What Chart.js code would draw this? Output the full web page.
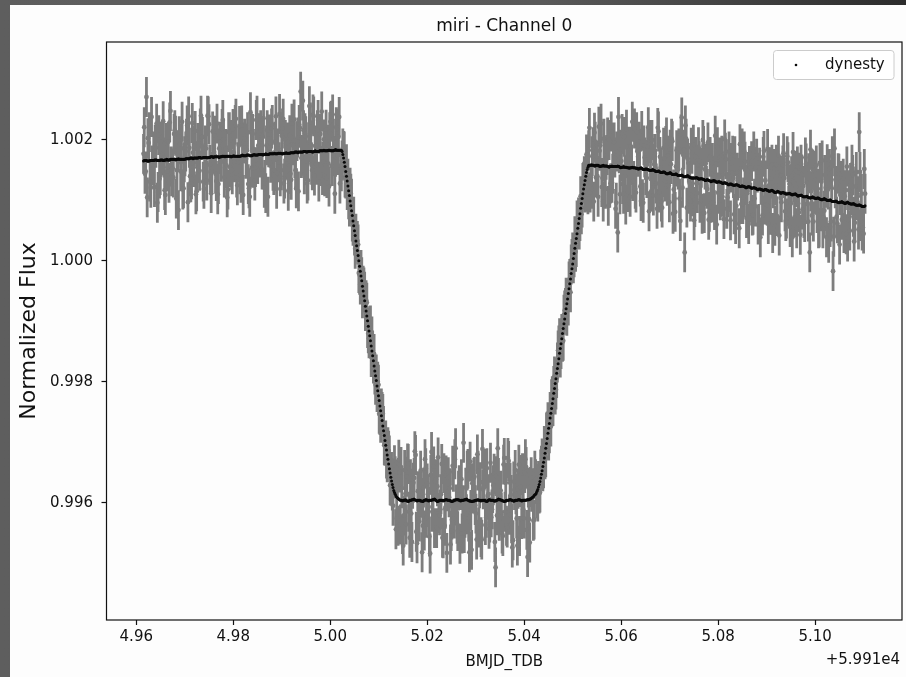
<!DOCTYPE html>
<html>
<head>
<meta charset="utf-8">
<title>miri - Channel 0</title>
<script src="https://cdn.jsdelivr.net/npm/chart.js@4.4.1/dist/chart.umd.min.js"></script>
<style>
  html, body { margin: 0; padding: 0; }
  body {
    width: 906px; height: 677px; overflow: hidden; position: relative;
    background: linear-gradient(to right, #5e5e5e 0%, #595959 60%, #2c2c2c 100%);
  }
  #sheet { position: absolute; left: 10px; top: 5px; right: 0; bottom: 0; background: #fdfdfd; }
  #chart { position: absolute; left: 0; top: 0; }
</style>
</head>
<body>
<div id="sheet"></div>
<canvas id="chart" width="906" height="677"></canvas>
<script>
// Time axis (BMJD_TDB minus the 5.991e4 offset)
const times = [
  4.96150,4.96165,4.96180,4.96195,4.96210,4.96225,4.96240,4.96255,4.96270,4.96285,4.96300,4.96315,4.96330,4.96345,4.96360,4.96375,4.96390,4.96405,4.96420,4.96435,4.96450,4.96465,4.96480,4.96495,4.96510,4.96525,4.96540,4.96555,4.96570,4.96585,4.96600,4.96615,4.96630,4.96645,4.96660,4.96675,4.96690,4.96705,4.96720,4.96735,
  4.96750,4.96765,4.96780,4.96795,4.96810,4.96825,4.96840,4.96855,4.96870,4.96885,4.96900,4.96915,4.96930,4.96945,4.96960,4.96975,4.96990,4.97005,4.97020,4.97035,4.97050,4.97065,4.97080,4.97095,4.97110,4.97125,4.97140,4.97155,4.97170,4.97185,4.97200,4.97215,4.97230,4.97245,4.97260,4.97275,4.97290,4.97305,4.97320,4.97335,
  4.97350,4.97365,4.97380,4.97395,4.97410,4.97425,4.97440,4.97455,4.97470,4.97485,4.97500,4.97515,4.97530,4.97545,4.97560,4.97575,4.97590,4.97605,4.97620,4.97635,4.97650,4.97665,4.97680,4.97695,4.97710,4.97725,4.97740,4.97755,4.97770,4.97785,4.97800,4.97815,4.97830,4.97845,4.97860,4.97875,4.97890,4.97905,4.97920,4.97935,
  4.97950,4.97965,4.97980,4.97995,4.98010,4.98025,4.98040,4.98055,4.98070,4.98085,4.98100,4.98115,4.98130,4.98145,4.98160,4.98175,4.98190,4.98205,4.98220,4.98235,4.98250,4.98265,4.98280,4.98295,4.98310,4.98325,4.98340,4.98355,4.98370,4.98385,4.98400,4.98415,4.98430,4.98445,4.98460,4.98475,4.98490,4.98505,4.98520,4.98535,
  4.98550,4.98565,4.98580,4.98595,4.98610,4.98625,4.98640,4.98655,4.98670,4.98685,4.98700,4.98715,4.98730,4.98745,4.98760,4.98775,4.98790,4.98805,4.98820,4.98835,4.98850,4.98865,4.98880,4.98895,4.98910,4.98925,4.98940,4.98955,4.98970,4.98985,4.99000,4.99015,4.99030,4.99045,4.99060,4.99075,4.99090,4.99105,4.99120,4.99135,
  4.99150,4.99165,4.99180,4.99195,4.99210,4.99225,4.99240,4.99255,4.99270,4.99285,4.99300,4.99315,4.99330,4.99345,4.99360,4.99375,4.99390,4.99405,4.99420,4.99435,4.99450,4.99465,4.99480,4.99495,4.99510,4.99525,4.99540,4.99555,4.99570,4.99585,4.99600,4.99615,4.99630,4.99645,4.99660,4.99675,4.99690,4.99705,4.99720,4.99735,
  4.99750,4.99765,4.99780,4.99795,4.99810,4.99825,4.99840,4.99855,4.99870,4.99885,4.99900,4.99915,4.99930,4.99945,4.99960,4.99975,4.99990,5.00005,5.00020,5.00035,5.00050,5.00065,5.00080,5.00095,5.00110,5.00125,5.00140,5.00155,5.00170,5.00185,5.00200,5.00215,5.00230,5.00245,5.00260,5.00275,5.00290,5.00305,5.00320,5.00335,
  5.00350,5.00365,5.00380,5.00395,5.00410,5.00425,5.00440,5.00455,5.00470,5.00485,5.00500,5.00515,5.00530,5.00545,5.00560,5.00575,5.00590,5.00605,5.00620,5.00635,5.00650,5.00665,5.00680,5.00695,5.00710,5.00725,5.00740,5.00755,5.00770,5.00785,5.00800,5.00815,5.00830,5.00845,5.00860,5.00875,5.00890,5.00905,5.00920,5.00935,
  5.00950,5.00965,5.00980,5.00995,5.01010,5.01025,5.01040,5.01055,5.01070,5.01085,5.01100,5.01115,5.01130,5.01145,5.01160,5.01175,5.01190,5.01205,5.01220,5.01235,5.01250,5.01265,5.01280,5.01295,5.01310,5.01325,5.01340,5.01355,5.01370,5.01385,5.01400,5.01415,5.01430,5.01445,5.01460,5.01475,5.01490,5.01505,5.01520,5.01535,
  5.01550,5.01565,5.01580,5.01595,5.01610,5.01625,5.01640,5.01655,5.01670,5.01685,5.01700,5.01715,5.01730,5.01745,5.01760,5.01775,5.01790,5.01805,5.01820,5.01835,5.01850,5.01865,5.01880,5.01895,5.01910,5.01925,5.01940,5.01955,5.01970,5.01985,5.02000,5.02015,5.02030,5.02045,5.02060,5.02075,5.02090,5.02105,5.02120,5.02135,
  5.02150,5.02165,5.02180,5.02195,5.02210,5.02225,5.02240,5.02255,5.02270,5.02285,5.02300,5.02315,5.02330,5.02345,5.02360,5.02375,5.02390,5.02405,5.02420,5.02435,5.02450,5.02465,5.02480,5.02495,5.02510,5.02525,5.02540,5.02555,5.02570,5.02585,5.02600,5.02615,5.02630,5.02645,5.02660,5.02675,5.02690,5.02705,5.02720,5.02735,
  5.02750,5.02765,5.02780,5.02795,5.02810,5.02825,5.02840,5.02855,5.02870,5.02885,5.02900,5.02915,5.02930,5.02945,5.02960,5.02975,5.02990,5.03005,5.03020,5.03035,5.03050,5.03065,5.03080,5.03095,5.03110,5.03125,5.03140,5.03155,5.03170,5.03185,5.03200,5.03215,5.03230,5.03245,5.03260,5.03275,5.03290,5.03305,5.03320,5.03335,
  5.03350,5.03365,5.03380,5.03395,5.03410,5.03425,5.03440,5.03455,5.03470,5.03485,5.03500,5.03515,5.03530,5.03545,5.03560,5.03575,5.03590,5.03605,5.03620,5.03635,5.03650,5.03665,5.03680,5.03695,5.03710,5.03725,5.03740,5.03755,5.03770,5.03785,5.03800,5.03815,5.03830,5.03845,5.03860,5.03875,5.03890,5.03905,5.03920,5.03935,
  5.03950,5.03965,5.03980,5.03995,5.04010,5.04025,5.04040,5.04055,5.04070,5.04085,5.04100,5.04115,5.04130,5.04145,5.04160,5.04175,5.04190,5.04205,5.04220,5.04235,5.04250,5.04265,5.04280,5.04295,5.04310,5.04325,5.04340,5.04355,5.04370,5.04385,5.04400,5.04415,5.04430,5.04445,5.04460,5.04475,5.04490,5.04505,5.04520,5.04535,
  5.04550,5.04565,5.04580,5.04595,5.04610,5.04625,5.04640,5.04655,5.04670,5.04685,5.04700,5.04715,5.04730,5.04745,5.04760,5.04775,5.04790,5.04805,5.04820,5.04835,5.04850,5.04865,5.04880,5.04895,5.04910,5.04925,5.04940,5.04955,5.04970,5.04985,5.05000,5.05015,5.05030,5.05045,5.05060,5.05075,5.05090,5.05105,5.05120,5.05135,
  5.05150,5.05165,5.05180,5.05195,5.05210,5.05225,5.05240,5.05255,5.05270,5.05285,5.05300,5.05315,5.05330,5.05345,5.05360,5.05375,5.05390,5.05405,5.05420,5.05435,5.05450,5.05465,5.05480,5.05495,5.05510,5.05525,5.05540,5.05555,5.05570,5.05585,5.05600,5.05615,5.05630,5.05645,5.05660,5.05675,5.05690,5.05705,5.05720,5.05735,
  5.05750,5.05765,5.05780,5.05795,5.05810,5.05825,5.05840,5.05855,5.05870,5.05885,5.05900,5.05915,5.05930,5.05945,5.05960,5.05975,5.05990,5.06005,5.06020,5.06035,5.06050,5.06065,5.06080,5.06095,5.06110,5.06125,5.06140,5.06155,5.06170,5.06185,5.06200,5.06215,5.06230,5.06245,5.06260,5.06275,5.06290,5.06305,5.06320,5.06335,
  5.06350,5.06365,5.06380,5.06395,5.06410,5.06425,5.06440,5.06455,5.06470,5.06485,5.06500,5.06515,5.06530,5.06545,5.06560,5.06575,5.06590,5.06605,5.06620,5.06635,5.06650,5.06665,5.06680,5.06695,5.06710,5.06725,5.06740,5.06755,5.06770,5.06785,5.06800,5.06815,5.06830,5.06845,5.06860,5.06875,5.06890,5.06905,5.06920,5.06935,
  5.06950,5.06965,5.06980,5.06995,5.07010,5.07025,5.07040,5.07055,5.07070,5.07085,5.07100,5.07115,5.07130,5.07145,5.07160,5.07175,5.07190,5.07205,5.07220,5.07235,5.07250,5.07265,5.07280,5.07295,5.07310,5.07325,5.07340,5.07355,5.07370,5.07385,5.07400,5.07415,5.07430,5.07445,5.07460,5.07475,5.07490,5.07505,5.07520,5.07535,
  5.07550,5.07565,5.07580,5.07595,5.07610,5.07625,5.07640,5.07655,5.07670,5.07685,5.07700,5.07715,5.07730,5.07745,5.07760,5.07775,5.07790,5.07805,5.07820,5.07835,5.07850,5.07865,5.07880,5.07895,5.07910,5.07925,5.07940,5.07955,5.07970,5.07985,5.08000,5.08015,5.08030,5.08045,5.08060,5.08075,5.08090,5.08105,5.08120,5.08135,
  5.08150,5.08165,5.08180,5.08195,5.08210,5.08225,5.08240,5.08255,5.08270,5.08285,5.08300,5.08315,5.08330,5.08345,5.08360,5.08375,5.08390,5.08405,5.08420,5.08435,5.08450,5.08465,5.08480,5.08495,5.08510,5.08525,5.08540,5.08555,5.08570,5.08585,5.08600,5.08615,5.08630,5.08645,5.08660,5.08675,5.08690,5.08705,5.08720,5.08735,
  5.08750,5.08765,5.08780,5.08795,5.08810,5.08825,5.08840,5.08855,5.08870,5.08885,5.08900,5.08915,5.08930,5.08945,5.08960,5.08975,5.08990,5.09005,5.09020,5.09035,5.09050,5.09065,5.09080,5.09095,5.09110,5.09125,5.09140,5.09155,5.09170,5.09185,5.09200,5.09215,5.09230,5.09245,5.09260,5.09275,5.09290,5.09305,5.09320,5.09335,
  5.09350,5.09365,5.09380,5.09395,5.09410,5.09425,5.09440,5.09455,5.09470,5.09485,5.09500,5.09515,5.09530,5.09545,5.09560,5.09575,5.09590,5.09605,5.09620,5.09635,5.09650,5.09665,5.09680,5.09695,5.09710,5.09725,5.09740,5.09755,5.09770,5.09785,5.09800,5.09815,5.09830,5.09845,5.09860,5.09875,5.09890,5.09905,5.09920,5.09935,
  5.09950,5.09965,5.09980,5.09995,5.10010,5.10025,5.10040,5.10055,5.10070,5.10085,5.10100,5.10115,5.10130,5.10145,5.10160,5.10175,5.10190,5.10205,5.10220,5.10235,5.10250,5.10265,5.10280,5.10295,5.10310,5.10325,5.10340,5.10355,5.10370,5.10385,5.10400,5.10415,5.10430,5.10445,5.10460,5.10475,5.10490,5.10505,5.10520,5.10535,
  5.10550,5.10565,5.10580,5.10595,5.10610,5.10625,5.10640,5.10655,5.10670,5.10685,5.10700,5.10715,5.10730,5.10745,5.10760,5.10775,5.10790,5.10805,5.10820,5.10835,5.10850,5.10865,5.10880,5.10895,5.10910,5.10925,5.10940,5.10955,5.10970,5.10985,5.11000,5.11015,5.11030
];

// Measured normalized flux (gray points with error bars)
const flux = [
  1.00177,1.00221,1.00144,1.00148,1.00271,1.00105,1.00203,1.00195,1.00213,1.00131,1.00121,1.00238,1.00158,1.00158,1.00181,1.00122,1.00192,1.00187,1.00227,1.00096,1.00114,1.00208,1.00136,1.00142,1.00197,1.00177,1.00175,1.00231,1.00171,1.00117,1.00109,1.00195,1.00148,1.00155,1.00197,1.00129,1.00229,1.00248,1.00156,1.00140,
  1.00153,1.00138,1.00210,1.00216,1.00207,1.00103,1.00150,1.00183,1.00084,1.00206,1.00193,1.00148,1.00186,1.00230,1.00118,1.00120,1.00163,1.00173,1.00181,1.00202,1.00224,1.00097,1.00239,1.00187,1.00140,1.00130,1.00135,1.00228,1.00179,1.00155,1.00190,1.00215,1.00110,1.00115,1.00162,1.00195,1.00193,1.00149,1.00219,1.00240,
  1.00205,1.00205,1.00131,1.00119,1.00159,1.00191,1.00186,1.00133,1.00240,1.00239,1.00226,1.00159,1.00147,1.00112,1.00147,1.00214,1.00179,1.00180,1.00207,1.00144,1.00132,1.00227,1.00110,1.00127,1.00186,1.00197,1.00177,1.00164,1.00218,1.00233,1.00201,1.00138,1.00154,1.00185,1.00158,1.00105,1.00118,1.00213,1.00213,1.00155,
  1.00200,1.00150,1.00143,1.00218,1.00179,1.00163,1.00225,1.00235,1.00138,1.00125,1.00163,1.00191,1.00223,1.00143,1.00129,1.00224,1.00165,1.00109,1.00196,1.00202,1.00194,1.00169,1.00183,1.00213,1.00127,1.00120,1.00106,1.00246,1.00212,1.00154,1.00210,1.00185,1.00154,1.00133,1.00155,1.00233,1.00240,1.00160,1.00191,1.00211,
  1.00171,1.00216,1.00201,1.00151,1.00205,1.00236,1.00121,1.00134,1.00112,1.00191,1.00216,1.00106,1.00188,1.00209,1.00187,1.00162,1.00219,1.00225,1.00149,1.00142,1.00150,1.00197,1.00239,1.00119,1.00180,1.00186,1.00163,1.00243,1.00140,1.00150,1.00207,1.00219,1.00235,1.00128,1.00136,1.00200,1.00194,1.00168,1.00196,1.00116,
  1.00158,1.00208,1.00144,1.00134,1.00227,1.00191,1.00199,1.00234,1.00170,1.00150,1.00120,1.00198,1.00204,1.00115,1.00225,1.00220,1.00280,1.00170,1.00175,1.00265,1.00216,1.00143,1.00211,1.00206,1.00165,1.00128,1.00133,1.00196,1.00256,1.00229,1.00193,1.00159,1.00150,1.00242,1.00239,1.00141,1.00190,1.00191,1.00159,1.00216,
  1.00233,1.00131,1.00210,1.00210,1.00157,1.00247,1.00142,1.00164,1.00201,1.00140,1.00197,1.00217,1.00137,1.00192,1.00161,1.00123,1.00213,1.00230,1.00232,1.00157,1.00242,1.00202,1.00173,1.00111,1.00172,1.00221,1.00218,1.00175,1.00205,1.00238,1.00128,1.00151,1.00148,1.00166,1.00186,1.00182,1.00181,1.00138,1.00136,1.00160,
  1.00117,1.00136,1.00102,1.00090,1.00121,1.00111,1.00103,1.00065,1.00058,1.00073,1.00042,1.00020,1.00045,1.00033,1.00033,1.00027,0.99980,0.99977,0.99961,0.99985,0.99973,0.99938,0.99959,0.99956,0.99949,0.99917,0.99935,0.99931,0.99889,0.99880,0.99872,0.99892,0.99893,0.99841,0.99875,0.99852,0.99830,0.99846,0.99812,0.99795,
  0.99812,0.99783,0.99800,0.99795,0.99747,0.99745,0.99732,0.99756,0.99750,0.99747,0.99727,0.99695,0.99694,0.99703,0.99673,0.99667,0.99692,0.99686,0.99678,0.99629,0.99628,0.99651,0.99620,0.99595,0.99640,0.99662,0.99644,0.99556,0.99574,0.99638,0.99562,0.99671,0.99650,0.99564,0.99659,0.99624,0.99548,0.99529,0.99579,0.99654,
  0.99615,0.99564,0.99643,0.99665,0.99664,0.99585,0.99542,0.99639,0.99582,0.99535,0.99623,0.99633,0.99641,0.99685,0.99679,0.99552,0.99533,0.99619,0.99574,0.99569,0.99619,0.99653,0.99608,0.99518,0.99562,0.99625,0.99554,0.99672,0.99657,0.99575,0.99632,0.99614,0.99593,0.99544,0.99516,0.99646,0.99684,0.99585,0.99617,0.99660,
  0.99558,0.99635,0.99639,0.99558,0.99627,0.99675,0.99583,0.99579,0.99589,0.99614,0.99664,0.99542,0.99541,0.99649,0.99562,0.99590,0.99645,0.99517,0.99619,0.99642,0.99609,0.99624,0.99531,0.99553,0.99572,0.99661,0.99651,0.99574,0.99672,0.99690,0.99597,0.99565,0.99553,0.99620,0.99629,0.99532,0.99621,0.99639,0.99549,0.99596,
  0.99699,0.99550,0.99575,0.99625,0.99581,0.99653,0.99656,0.99569,0.99518,0.99668,0.99588,0.99522,0.99632,0.99615,0.99641,0.99643,0.99596,0.99582,0.99539,0.99680,0.99653,0.99559,0.99624,0.99634,0.99543,0.99539,0.99689,0.99622,0.99626,0.99656,0.99563,0.99575,0.99657,0.99611,0.99614,0.99557,0.99567,0.99666,0.99576,0.99589,
  0.99616,0.99629,0.99648,0.99535,0.99493,0.99644,0.99579,0.99690,0.99641,0.99570,0.99610,0.99620,0.99584,0.99549,0.99545,0.99663,0.99674,0.99585,0.99633,0.99562,0.99559,0.99674,0.99669,0.99580,0.99633,0.99613,0.99566,0.99526,0.99538,0.99635,0.99621,0.99654,0.99614,0.99574,0.99529,0.99623,0.99663,0.99545,0.99626,0.99646,
  0.99573,0.99649,0.99589,0.99574,0.99649,0.99672,0.99659,0.99555,0.99510,0.99625,0.99573,0.99534,0.99626,0.99642,0.99618,0.99624,0.99570,0.99572,0.99653,0.99639,0.99631,0.99607,0.99602,0.99636,0.99615,0.99617,0.99655,0.99661,0.99673,0.99652,0.99657,0.99694,0.99672,0.99675,0.99716,0.99718,0.99733,0.99703,0.99715,0.99750,
  0.99726,0.99771,0.99776,0.99760,0.99793,0.99809,0.99779,0.99787,0.99806,0.99832,0.99852,0.99860,0.99872,0.99840,0.99854,0.99879,0.99866,0.99868,0.99911,0.99918,0.99922,0.99939,0.99909,0.99927,0.99926,0.99966,0.99970,0.99948,0.99994,1.00003,1.00014,0.99996,1.00006,1.00041,1.00015,1.00023,1.00067,1.00064,1.00072,1.00052,
  1.00066,1.00107,1.00077,1.00088,1.00129,1.00131,1.00140,1.00113,1.00115,1.00176,1.00171,1.00110,1.00183,1.00220,1.00113,1.00128,1.00119,1.00173,1.00188,1.00098,1.00212,1.00197,1.00138,1.00166,1.00140,1.00106,1.00222,1.00182,1.00191,1.00227,1.00122,1.00137,1.00098,1.00202,1.00165,1.00119,1.00167,1.00175,1.00204,1.00091,
  1.00200,1.00121,1.00128,1.00214,1.00129,1.00144,1.00196,1.00196,1.00171,1.00086,1.00096,1.00181,1.00047,1.00238,1.00178,1.00110,1.00184,1.00165,1.00210,1.00127,1.00111,1.00205,1.00140,1.00093,1.00217,1.00172,1.00114,1.00189,1.00161,1.00106,1.00189,1.00159,1.00230,1.00132,1.00132,1.00219,1.00119,1.00113,1.00213,1.00181,
  1.00172,1.00197,1.00183,1.00123,1.00099,1.00215,1.00102,1.00096,1.00191,1.00171,1.00167,1.00142,1.00137,1.00189,1.00221,1.00082,1.00200,1.00165,1.00115,1.00200,1.00121,1.00108,1.00160,1.00177,1.00153,1.00128,1.00086,1.00220,1.00214,1.00113,1.00172,1.00154,1.00098,1.00088,1.00139,1.00187,1.00169,1.00131,1.00190,1.00204,
  1.00124,1.00174,1.00125,1.00097,1.00184,1.00160,1.00202,1.00198,1.00078,1.00118,1.00103,1.00081,1.00156,1.00183,1.00160,1.00151,1.00186,1.00103,1.00066,1.00209,1.00237,1.00121,1.00175,1.00184,1.00014,1.00224,1.00202,1.00088,1.00169,1.00162,1.00111,1.00128,1.00098,1.00187,1.00177,1.00107,1.00192,1.00067,1.00089,1.00172,
  1.00128,1.00112,1.00159,1.00188,1.00165,1.00096,1.00101,1.00154,1.00078,1.00200,1.00190,1.00079,1.00151,1.00161,1.00124,1.00119,1.00196,1.00068,1.00081,1.00172,1.00096,1.00144,1.00162,1.00097,1.00141,1.00084,1.00207,1.00161,1.00060,1.00188,1.00113,1.00111,1.00171,1.00100,1.00168,1.00174,1.00106,1.00143,1.00069,1.00201,
  1.00179,1.00168,1.00086,1.00105,1.00114,1.00181,1.00147,1.00067,1.00162,1.00146,1.00174,1.00137,1.00077,1.00173,1.00061,1.00091,1.00146,1.00133,1.00137,1.00054,1.00193,1.00153,1.00094,1.00186,1.00094,1.00105,1.00181,1.00164,1.00126,1.00071,1.00112,1.00147,1.00061,1.00157,1.00154,1.00096,1.00165,1.00075,1.00076,1.00181,
  1.00103,1.00090,1.00155,1.00169,1.00146,1.00060,1.00061,1.00154,1.00039,1.00126,1.00133,1.00075,1.00172,1.00182,1.00093,1.00133,1.00093,1.00092,1.00185,1.00061,1.00125,1.00155,1.00076,1.00136,1.00159,1.00046,1.00120,1.00152,1.00058,1.00125,1.00159,1.00074,1.00145,1.00174,1.00042,1.00141,1.00104,1.00097,1.00141,1.00158,
  1.00178,1.00137,1.00082,1.00066,1.00070,1.00173,1.00163,1.00091,1.00127,1.00056,1.00095,1.00140,1.00039,1.00180,1.00130,1.00072,1.00149,1.00122,1.00054,1.00156,1.00095,1.00080,1.00146,1.00043,1.00159,1.00143,1.00085,1.00124,1.00071,1.00064,1.00171,1.00161,1.00129,1.00094,1.00065,1.00145,1.00014,1.00184,1.00115,1.00075,
  1.00151,1.00065,1.00149,1.00134,1.00111,1.00158,1.00079,1.00119,1.00054,1.00055,1.00162,1.00082,1.00131,1.00166,1.00054,1.00072,1.00083,1.00142,1.00121,1.00039,1.00160,1.00118,1.00030,1.00152,1.00056,1.00065,1.00134,1.00173,0.99983,1.00040,1.00186,1.00120,1.00124,1.00073,1.00062,1.00145,1.00144,1.00027,1.00109,1.00132,
  1.00068,1.00132,1.00136,1.00046,1.00107,1.00117,1.00044,1.00156,1.00032,1.00068,1.00117,1.00050,1.00129,1.00109,1.00159,1.00142,1.00073,1.00032,1.00063,1.00123,1.00147,1.00100,1.00107,1.00052,1.00213,1.00147,1.00066,1.00111,1.00050,1.00055,1.00045,1.00152,1.00111
];

// Error on each flux point (about the same everywhere)
const fluxErr = 0.00033;

// dynesty fit evaluated at each time (black dots)
const model = [
  1.00165,1.00166,1.00166,1.00166,1.00166,1.00165,1.00165,1.00165,1.00165,1.00166,1.00166,1.00166,1.00166,1.00166,1.00166,1.00167,1.00167,1.00167,1.00167,1.00166,1.00166,1.00166,1.00166,1.00167,1.00167,1.00167,1.00167,1.00166,1.00166,1.00167,1.00167,1.00167,1.00168,1.00167,1.00167,1.00167,1.00167,1.00168,1.00168,1.00168,
  1.00168,1.00168,1.00168,1.00168,1.00167,1.00168,1.00168,1.00168,1.00169,1.00168,1.00168,1.00168,1.00168,1.00168,1.00168,1.00168,1.00168,1.00168,1.00169,1.00169,1.00169,1.00169,1.00169,1.00169,1.00170,1.00170,1.00170,1.00170,1.00169,1.00170,1.00170,1.00170,1.00170,1.00170,1.00170,1.00170,1.00171,1.00171,1.00171,1.00170,
  1.00170,1.00170,1.00171,1.00171,1.00171,1.00171,1.00171,1.00171,1.00170,1.00171,1.00171,1.00171,1.00172,1.00172,1.00172,1.00172,1.00171,1.00172,1.00172,1.00172,1.00172,1.00172,1.00172,1.00172,1.00171,1.00172,1.00172,1.00172,1.00173,1.00173,1.00173,1.00173,1.00172,1.00173,1.00173,1.00173,1.00173,1.00173,1.00173,1.00173,
  1.00172,1.00172,1.00173,1.00173,1.00174,1.00173,1.00173,1.00173,1.00173,1.00173,1.00173,1.00173,1.00173,1.00173,1.00174,1.00174,1.00175,1.00174,1.00174,1.00174,1.00174,1.00174,1.00175,1.00175,1.00175,1.00175,1.00174,1.00174,1.00174,1.00174,1.00175,1.00175,1.00176,1.00175,1.00175,1.00175,1.00175,1.00175,1.00176,1.00176,
  1.00176,1.00176,1.00176,1.00176,1.00175,1.00176,1.00176,1.00176,1.00177,1.00176,1.00176,1.00176,1.00176,1.00177,1.00177,1.00177,1.00177,1.00177,1.00177,1.00177,1.00178,1.00177,1.00177,1.00177,1.00177,1.00178,1.00178,1.00178,1.00178,1.00178,1.00177,1.00177,1.00177,1.00178,1.00178,1.00178,1.00179,1.00178,1.00178,1.00178,
  1.00178,1.00178,1.00179,1.00179,1.00179,1.00179,1.00179,1.00179,1.00180,1.00180,1.00180,1.00180,1.00179,1.00180,1.00180,1.00180,1.00180,1.00180,1.00180,1.00180,1.00181,1.00181,1.00181,1.00181,1.00180,1.00180,1.00181,1.00181,1.00181,1.00181,1.00181,1.00181,1.00180,1.00180,1.00181,1.00181,1.00182,1.00181,1.00181,1.00181,
  1.00181,1.00181,1.00182,1.00182,1.00182,1.00182,1.00182,1.00182,1.00183,1.00182,1.00182,1.00182,1.00182,1.00182,1.00183,1.00183,1.00183,1.00182,1.00182,1.00182,1.00182,1.00182,1.00183,1.00183,1.00184,1.00183,1.00183,1.00183,1.00183,1.00183,1.00183,1.00183,1.00183,1.00181,1.00176,1.00170,1.00163,1.00156,1.00148,1.00140,
  1.00132,1.00124,1.00116,1.00108,1.00099,1.00091,1.00083,1.00075,1.00066,1.00058,1.00050,1.00042,1.00033,1.00025,1.00017,1.00009,1.00000,0.99991,0.99983,0.99975,0.99967,0.99958,0.99950,0.99942,0.99934,0.99925,0.99917,0.99909,0.99901,0.99892,0.99884,0.99876,0.99868,0.99859,0.99851,0.99843,0.99835,0.99826,0.99818,0.99810,
  0.99802,0.99793,0.99785,0.99777,0.99769,0.99760,0.99752,0.99744,0.99736,0.99727,0.99719,0.99711,0.99703,0.99695,0.99687,0.99679,0.99672,0.99664,0.99656,0.99649,0.99642,0.99636,0.99630,0.99625,0.99620,0.99617,0.99614,0.99611,0.99609,0.99608,0.99607,0.99606,0.99605,0.99604,0.99604,0.99604,0.99603,0.99604,0.99604,0.99604,
  0.99605,0.99604,0.99603,0.99603,0.99602,0.99603,0.99604,0.99604,0.99604,0.99605,0.99605,0.99605,0.99606,0.99605,0.99604,0.99604,0.99603,0.99604,0.99604,0.99604,0.99604,0.99603,0.99603,0.99603,0.99602,0.99603,0.99604,0.99604,0.99605,0.99605,0.99604,0.99604,0.99603,0.99604,0.99604,0.99604,0.99604,0.99605,0.99605,0.99605,
  0.99606,0.99605,0.99604,0.99603,0.99602,0.99603,0.99603,0.99604,0.99604,0.99604,0.99604,0.99604,0.99603,0.99604,0.99604,0.99605,0.99605,0.99605,0.99604,0.99604,0.99604,0.99604,0.99603,0.99603,0.99602,0.99603,0.99603,0.99604,0.99604,0.99605,0.99605,0.99605,0.99605,0.99605,0.99604,0.99604,0.99603,0.99604,0.99604,0.99604,
  0.99604,0.99605,0.99605,0.99605,0.99606,0.99605,0.99604,0.99604,0.99603,0.99603,0.99603,0.99602,0.99602,0.99603,0.99603,0.99603,0.99604,0.99604,0.99604,0.99605,0.99605,0.99604,0.99604,0.99604,0.99603,0.99604,0.99604,0.99604,0.99604,0.99604,0.99603,0.99603,0.99602,0.99603,0.99604,0.99605,0.99605,0.99604,0.99604,0.99604,
  0.99604,0.99604,0.99603,0.99603,0.99603,0.99604,0.99604,0.99605,0.99606,0.99605,0.99605,0.99605,0.99604,0.99604,0.99603,0.99603,0.99602,0.99603,0.99603,0.99604,0.99604,0.99604,0.99604,0.99605,0.99605,0.99605,0.99604,0.99604,0.99603,0.99603,0.99603,0.99604,0.99604,0.99604,0.99604,0.99605,0.99605,0.99605,0.99604,0.99604,
  0.99603,0.99604,0.99604,0.99604,0.99604,0.99604,0.99604,0.99605,0.99605,0.99605,0.99605,0.99606,0.99606,0.99607,0.99608,0.99609,0.99610,0.99612,0.99613,0.99614,0.99616,0.99619,0.99622,0.99626,0.99630,0.99635,0.99641,0.99647,0.99653,0.99660,0.99667,0.99674,0.99682,0.99690,0.99698,0.99706,0.99715,0.99723,0.99731,0.99740,
  0.99748,0.99756,0.99764,0.99772,0.99781,0.99789,0.99797,0.99805,0.99814,0.99822,0.99830,0.99838,0.99847,0.99855,0.99863,0.99871,0.99880,0.99888,0.99896,0.99904,0.99913,0.99921,0.99929,0.99937,0.99946,0.99954,0.99962,0.99970,0.99979,0.99987,0.99995,1.00004,1.00012,1.00021,1.00029,1.00037,1.00045,1.00054,1.00062,1.00070,
  1.00078,1.00087,1.00095,1.00103,1.00111,1.00119,1.00126,1.00133,1.00140,1.00146,1.00151,1.00155,1.00158,1.00158,1.00158,1.00158,1.00159,1.00158,1.00158,1.00158,1.00157,1.00157,1.00158,1.00158,1.00158,1.00158,1.00157,1.00157,1.00156,1.00157,1.00157,1.00157,1.00158,1.00157,1.00157,1.00157,1.00157,1.00157,1.00156,1.00156,
  1.00155,1.00156,1.00156,1.00156,1.00157,1.00156,1.00156,1.00156,1.00156,1.00156,1.00156,1.00156,1.00157,1.00156,1.00156,1.00155,1.00154,1.00155,1.00155,1.00155,1.00156,1.00155,1.00155,1.00155,1.00155,1.00154,1.00154,1.00154,1.00153,1.00154,1.00154,1.00154,1.00155,1.00154,1.00154,1.00154,1.00154,1.00153,1.00153,1.00153,
  1.00152,1.00152,1.00153,1.00153,1.00154,1.00153,1.00152,1.00151,1.00151,1.00151,1.00152,1.00152,1.00152,1.00151,1.00151,1.00150,1.00150,1.00150,1.00150,1.00150,1.00151,1.00150,1.00150,1.00149,1.00148,1.00148,1.00148,1.00148,1.00149,1.00148,1.00147,1.00146,1.00146,1.00146,1.00147,1.00147,1.00147,1.00146,1.00145,1.00144,
  1.00144,1.00144,1.00145,1.00145,1.00146,1.00145,1.00144,1.00143,1.00143,1.00143,1.00143,1.00143,1.00144,1.00143,1.00142,1.00141,1.00141,1.00141,1.00141,1.00141,1.00142,1.00141,1.00140,1.00139,1.00139,1.00139,1.00140,1.00140,1.00141,1.00140,1.00139,1.00138,1.00138,1.00137,1.00137,1.00137,1.00137,1.00137,1.00137,1.00137,
  1.00138,1.00137,1.00137,1.00136,1.00135,1.00136,1.00136,1.00136,1.00136,1.00135,1.00135,1.00134,1.00133,1.00133,1.00134,1.00134,1.00134,1.00133,1.00133,1.00132,1.00131,1.00132,1.00132,1.00132,1.00133,1.00132,1.00132,1.00131,1.00130,1.00130,1.00131,1.00131,1.00131,1.00130,1.00130,1.00129,1.00128,1.00128,1.00129,1.00129,
  1.00129,1.00128,1.00128,1.00127,1.00126,1.00126,1.00127,1.00127,1.00127,1.00126,1.00126,1.00125,1.00125,1.00125,1.00126,1.00126,1.00126,1.00125,1.00125,1.00124,1.00123,1.00123,1.00124,1.00124,1.00124,1.00123,1.00123,1.00122,1.00121,1.00121,1.00122,1.00122,1.00123,1.00122,1.00122,1.00121,1.00120,1.00120,1.00121,1.00121,
  1.00121,1.00120,1.00120,1.00119,1.00118,1.00118,1.00119,1.00119,1.00119,1.00118,1.00118,1.00117,1.00117,1.00117,1.00118,1.00118,1.00118,1.00117,1.00117,1.00116,1.00115,1.00115,1.00116,1.00116,1.00117,1.00116,1.00115,1.00114,1.00113,1.00113,1.00114,1.00114,1.00115,1.00114,1.00114,1.00113,1.00112,1.00112,1.00113,1.00113,
  1.00113,1.00112,1.00112,1.00111,1.00110,1.00111,1.00111,1.00111,1.00112,1.00111,1.00110,1.00110,1.00109,1.00110,1.00110,1.00110,1.00111,1.00110,1.00109,1.00108,1.00107,1.00108,1.00108,1.00108,1.00109,1.00108,1.00107,1.00106,1.00106,1.00106,1.00106,1.00106,1.00107,1.00106,1.00105,1.00105,1.00104,1.00104,1.00105,1.00105,
  1.00106,1.00105,1.00104,1.00104,1.00103,1.00103,1.00104,1.00104,1.00104,1.00103,1.00102,1.00102,1.00101,1.00101,1.00102,1.00102,1.00103,1.00102,1.00101,1.00101,1.00100,1.00100,1.00100,1.00100,1.00101,1.00100,1.00099,1.00098,1.00098,1.00098,1.00098,1.00098,1.00099,1.00098,1.00097,1.00097,1.00096,1.00097,1.00097,1.00097,
  1.00098,1.00097,1.00096,1.00096,1.00095,1.00095,1.00096,1.00096,1.00097,1.00096,1.00095,1.00095,1.00094,1.00094,1.00094,1.00094,1.00095,1.00094,1.00093,1.00093,1.00092,1.00092,1.00092,1.00092,1.00093,1.00092,1.00091,1.00091,1.00090,1.00090,1.00090,1.00090,1.00091
];

// Tick labels and axis limits
const xTicks = [4.96, 4.98, 5.00, 5.02, 5.04, 5.06, 5.08, 5.10];
const yTicks = [0.996, 0.998, 1.000, 1.002];
const xMin = 4.95386, xMax = 5.11792;
const yMin = 0.99406, yMax = 1.00362;
const offsetText = '+5.991e4';

Chart.defaults.font.family = "'DejaVu Sans', 'Liberation Sans', sans-serif";
Chart.defaults.color = '#111';

const dataPoints = times.map((t, i) => ({ x: t, y: flux[i] }));
const modelPoints = times.map((t, i) => ({ x: t, y: model[i] }));

// Vertical error bars, drawn under the markers with the chart's scales
const errorBars = {
    id: 'errorBars',
    beforeDatasetsDraw(chart) {
        const { ctx, chartArea: a, scales: { x, y } } = chart;
        ctx.save();
        ctx.beginPath();
        ctx.rect(a.left, a.top, a.right - a.left, a.bottom - a.top);
        ctx.clip();
        ctx.strokeStyle = '#7d7d7d';
        ctx.lineWidth = 2.8;
        ctx.beginPath();
        times.forEach((t, i) => {
            const px = x.getPixelForValue(t);
            ctx.moveTo(px, y.getPixelForValue(flux[i] + fluxErr));
            ctx.lineTo(px, y.getPixelForValue(flux[i] - fluxErr));
        });
        ctx.stroke();
        ctx.restore();
    }
};

// Axes frame, legend box and the x offset text
const extras = {
    id: 'extras',
    afterDraw(chart) {
        const { ctx, chartArea: a } = chart;
        ctx.save();
        ctx.strokeStyle = '#111';
        ctx.lineWidth = 1.2;
        ctx.strokeRect(a.left, a.top, a.right - a.left, a.bottom - a.top);

        // legend in the upper right corner
        const bx = a.right - 128.5, by = a.top + 8.5, bw = 120.5, bh = 29;
        ctx.beginPath();
        if (ctx.roundRect) ctx.roundRect(bx, by, bw, bh, 3);
        else ctx.rect(bx, by, bw, bh);
        ctx.fillStyle = 'rgba(255,255,255,0.8)';
        ctx.fill();
        ctx.strokeStyle = '#cccccc';
        ctx.lineWidth = 1;
        ctx.stroke();
        ctx.fillStyle = '#0a0a0a';
        ctx.beginPath();
        ctx.arc(bx + 22.5, by + 14.5, 1.3, 0, Math.PI * 2);
        ctx.fill();
        ctx.font = "15px 'DejaVu Sans', sans-serif";
        ctx.textBaseline = 'middle';
        ctx.textAlign = 'left';
        ctx.fillStyle = '#111';
        ctx.fillText('dynesty', bx + 51.5, by + 14.5);

        // offset of the time axis
        ctx.textAlign = 'right';
        ctx.fillText(offsetText, a.right - 2, a.bottom + 40);
        ctx.restore();
    }
};

const tickGrid = { drawOnChartArea: false, drawTicks: true, tickLength: 5, tickColor: '#111', tickWidth: 1.2 };

new Chart(document.getElementById('chart').getContext('2d'), {
    type: 'scatter',
    data: {
        datasets: [
            {
                label: 'dynesty',
                data: modelPoints,
                pointRadius: 1.5,
                pointBackgroundColor: '#0a0a0a',
                pointBorderWidth: 0,
                order: 1
            },
            {
                label: 'data',
                data: dataPoints,
                pointRadius: 2.4,
                pointBackgroundColor: '#7d7d7d',
                pointBorderWidth: 0,
                order: 2
            }
        ]
    },
    options: {
        responsive: false,
        animation: false,
        events: [],
        devicePixelRatio: 1,
        layout: { padding: { top: 0, right: 3, bottom: 0, left: 0 } },
        plugins: {
            legend: { display: false },
            tooltip: { enabled: false },
            title: {
                display: true,
                text: 'miri - Channel 0',
                fullSize: false,
                color: '#111',
                font: { size: 17, weight: 'normal' },
                padding: { top: 16.8, bottom: 4.8 }
            }
        },
        scales: {
            x: {
                type: 'linear',
                min: xMin,
                max: xMax,
                afterBuildTicks: s => { s.ticks = xTicks.map(v => ({ value: v })); },
                afterFit: s => { s.height = 57; },
                ticks: { callback: v => v.toFixed(2), font: { size: 15 }, color: '#111', padding: 3, maxRotation: 0, autoSkip: false },
                grid: tickGrid,
                border: { display: false },
                title: { display: true, text: 'BMJD_TDB', color: '#111', font: { size: 15 }, padding: { top: 0, bottom: 6 } }
            },
            y: {
                type: 'linear',
                min: yMin,
                max: yMax,
                afterBuildTicks: s => { s.ticks = yTicks.map(v => ({ value: v })); },
                afterFit: s => { s.width = 106.5; },
                ticks: { callback: v => v.toFixed(3), font: { size: 15 }, color: '#111', padding: 8.5 },
                grid: tickGrid,
                border: { display: false },
                title: { display: true, text: 'Normalized Flux', color: '#111', font: { size: 22 }, padding: { top: 16.3, bottom: 0 } }
            }
        }
    },
    plugins: [errorBars, extras]
});
</script>
</body>
</html>
